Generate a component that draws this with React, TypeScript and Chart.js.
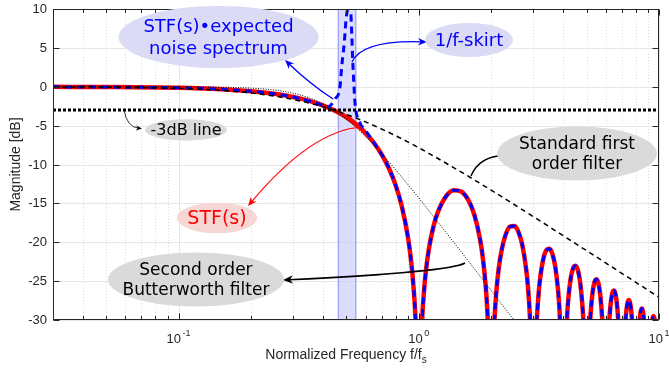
import React, { useEffect, useRef } from 'react';
import { Chart, registerables } from 'chart.js';
Chart.register(...registerables);

// ---------- data ----------
const stfFreq = [
  0.03, 0.05, 0.1, 0.15, 0.2, 0.25, 0.3, 0.35, 0.4, 0.45, 0.5, 0.55, 0.6, 0.65, 0.7, 0.75, 0.8, 0.85, 0.9, 0.93, 0.95, 0.97, 0.99,
  1.01, 1.03, 1.05, 1.07, 1.1, 1.15, 1.2, 1.3, 1.4, 1.5, 1.6, 1.7, 1.8, 1.85, 1.9, 1.93, 1.95,
  2.05, 2.07, 2.1, 2.15, 2.2, 2.3, 2.4, 2.5, 2.6, 2.7, 2.8, 2.85, 2.9, 2.95,
  3.05, 3.07, 3.1, 3.15, 3.2, 3.3, 3.4, 3.5, 3.6, 3.7, 3.8, 3.85, 3.9,
  4.1, 4.15, 4.2, 4.3, 4.4, 4.5, 4.6, 4.7, 4.8, 4.85, 4.9,
  5.1, 5.15, 5.2, 5.3, 5.4, 5.5, 5.6, 5.7, 5.8, 5.85,
  6.15, 6.2, 6.25, 6.3, 6.4, 6.5, 6.6, 6.7, 6.75, 6.8,
  7.2, 7.25, 7.3, 7.4, 7.5, 7.6, 7.7, 7.75,
  8.25, 8.3, 8.4, 8.5, 8.6, 8.7,
  9.3, 9.4, 9.5, 9.6, 9.7, 9.8,
];
const stfDb = [
  -0.013, -0.036, -0.144, -0.323, -0.579, -0.912, -1.326, -1.827, -2.419, -3.115, -3.922, -4.858, -5.94, -7.2, -8.69, -10.45, -12.62, -15.39, -19.23, -22.54, -25.61, -30.2, -39.9,
  -40.1, -30.73, -26.49, -23.76, -20.97, -18.02, -16.15, -14.06, -13.3, -13.47, -14.46, -16.39, -19.67, -22.15, -25.72, -28.88, -31.86,
  -32.3, -29.49, -26.59, -23.45, -21.41, -19.02, -17.98, -17.9, -18.68, -20.41, -23.51, -25.9, -29.39, -35.46,
  -35.75, -32.9, -29.97, -26.77, -24.67, -22.15, -21.01, -20.82, -21.51, -23.15, -26.16, -28.51, -31.96,
  -32.4, -29.16, -27.03, -24.45, -23.25, -23.01, -23.64, -25.23, -28.19, -30.52, -33.95,
  -34.3, -31.04, -28.88, -26.27, -25.03, -24.75, -25.35, -26.9, -29.83, -32.15,
  -32.58, -30.41, -28.87, -27.77, -26.5, -26.2, -26.77, -28.3, -29.54, -31.21,
  -31.71, -30.16, -29.05, -27.77, -27.44, -27.99, -29.51, -30.74,
  -31.28, -30.17, -28.87, -28.53, -29.07, -30.57,
  -31.15, -29.84, -29.5, -30.03, -31.52, -34.4,
];
// STF(s) * expected noise spectrum: deviates from STF only around the 1/f skirt
const noiseFreq = [0.42, 0.435, 0.4477, 0.4697, 0.4775, 0.4895, 0.4975, 0.5058, 0.513, 0.5207, 0.5257, 0.5307, 0.5373, 0.5425, 0.5692, 0.6];
const noiseDb = [-2.6, -2.2, -1.6, -0.03, 2.58, 5.63, 8.59, 10.3, 13.0, 9.87, 6.91, 3.44, 0.01, -2.09, -4.66, -5.6];

const firstFreq = [0.03, 0.05, 0.1, 0.15, 0.2, 0.25, 0.3, 0.35, 0.4, 0.443, 0.5, 0.6, 0.7, 0.8, 1, 1.5, 2, 3, 5, 7, 10];
const firstDb = [-0.02, -0.055, -0.216, -0.47, -0.807, -1.2, -1.64, -2.11, -2.59, -3.01, -3.57, -4.52, -5.44, -6.29, -7.85, -10.96, -13.3, -16.71, -21.09, -23.99, -27.08];

const butterFreq = [0.03, 0.1, 0.2, 0.25, 0.3, 0.35, 0.4, 0.443, 0.5, 0.6, 0.7, 0.8, 0.9, 1, 1.2, 1.5, 2, 2.5, 3];
const butterDb = [0, -0.011, -0.18, -0.42, -0.83, -1.43, -2.21, -3.01, -4.19, -6.4, -8.59, -10.66, -12.56, -14.31, -17.39, -21.22, -26.19, -30.07, -33.2];

const minus3Freq = [0.03, 10];
const minus3Db = [-3, -3];

const bandRange = [0.462, 0.547];

const yTicks = [-30, -25, -20, -15, -10, -5, 0, 5, 10];
const xDecades = [0.1, 1, 10];
const xDecadeExp = ['-1', '0', '1'];

// annotations (anchored in data coordinates)
const bubbles = [
  { f: 0.1466, db: 6.4, rx: 100, ry: 31, fill: 'rgb(219,219,245)', color: 'rgb(0,0,255)', size: 18, lines: ['STF(s)\u2022expected', 'noise spectrum'] },
  { f: 1.618, db: 6.01, rx: 44, ry: 17, fill: 'rgb(219,219,245)', color: 'rgb(0,0,255)', size: 18, lines: ['1/f-skirt'] },
  { f: 0.1074, db: -5.56, rx: 41, ry: 10.7, fill: 'rgb(218,218,218)', color: 'rgb(0,0,0)', size: 16, lines: ['-3dB line'] },
  { f: 0.1445, db: -16.88, rx: 40.3, ry: 15.3, fill: 'rgb(247,214,214)', color: 'rgb(255,0,0)', size: 19, lines: ['STF(s)'] },
  { f: 4.557, db: -8.585, rx: 80, ry: 27, fill: 'rgb(218,218,218)', color: 'rgb(0,0,0)', size: 17, lines: ['Standard first', 'order filter'] },
  { f: 0.1181, db: -24.79, rx: 88, ry: 27, fill: 'rgb(218,218,218)', color: 'rgb(0,0,0)', size: 17, lines: ['Second order', 'Butterworth filter'] },
];
const arrows = [
  { from: [0.44, -1.58], ctrl: [0.3524, 0.35], to: [0.2773, 3.44], color: 'rgb(0,0,255)', width: 1.3, head: 9 },
  { from: [0.5272, 3.18], ctrl: [0.5801, 6.01], to: [1.0817, 5.76], color: 'rgb(0,0,255)', width: 1.3, head: 9 },
  { from: [0.05925, -3.0], ctrl: [0.061, -5.18], to: [0.0704, -5.37], color: 'rgb(0,0,0)', width: 0.8, head: 6 },
  { from: [0.5801, -5.18], ctrl: [0.3593, -5.56], to: [0.1945, -15.34], color: 'rgb(255,0,0)', width: 1.2, head: 9 },
  { from: [1.649, -11.48], ctrl: [1.798, -8.78], to: [2.443, -8.91], color: 'rgb(0,0,0)', width: 1.5, head: 10 },
  { from: [1.557, -22.67], ctrl: [1.349, -23.83], to: [0.272, -24.86], color: 'rgb(0,0,0)', width: 1.5, head: 10 },
];

const zip = (xs: number[], ys: number[]) => xs.map((x, i) => ({ x, y: ys[i] }));

const stfPoints = zip(stfFreq, stfDb);
const noisePoints = [
  ...stfPoints.filter((p) => p.x < noiseFreq[0]),
  ...zip(noiseFreq, noiseDb),
  ...stfPoints.filter((p) => p.x > noiseFreq[noiseFreq.length - 1]),
];

const AXIS = 'rgb(38,38,38)';
const TICK_FONT = '"Liberation Sans", Arial, sans-serif';
const NOTE_FONT = '"DejaVu Sans", sans-serif';

function xGridValues(): { v: number; major: boolean }[] {
  const out: { v: number; major: boolean }[] = [];
  for (let e = -2; e <= 1; e++) {
    for (let m = 1; m <= 9; m++) {
      const v = m * Math.pow(10, e);
      if (v >= 0.0299 && v <= 10.001) out.push({ v, major: m === 1 });
    }
  }
  return out;
}

const decorPlugin = {
  id: 'decor',
  beforeDatasetsDraw(chart: any) {
    const { ctx, chartArea: a, scales } = chart;
    const xs = scales.x, ys = scales.y;
    ctx.save();
    ctx.lineWidth = 1;
    for (const g of xGridValues()) {
      const px = Math.round(xs.getPixelForValue(g.v)) + 0.5;
      ctx.beginPath();
      if (g.major) { ctx.setLineDash([]); ctx.strokeStyle = 'rgb(230,230,230)'; }
      else { ctx.setLineDash([1, 2]); ctx.strokeStyle = 'rgb(222,222,222)'; }
      ctx.moveTo(px, a.top); ctx.lineTo(px, a.bottom); ctx.stroke();
    }
    ctx.setLineDash([]);
    ctx.strokeStyle = 'rgb(230,230,230)';
    for (const t of yTicks) {
      const py = Math.round(ys.getPixelForValue(t)) + 0.5;
      ctx.beginPath(); ctx.moveTo(a.left, py); ctx.lineTo(a.right, py); ctx.stroke();
    }
    const b0 = xs.getPixelForValue(bandRange[0]);
    const b1 = xs.getPixelForValue(bandRange[1]);
    ctx.fillStyle = 'rgba(205,205,255,0.7)';
    ctx.fillRect(b0, a.top, b1 - b0, a.bottom - a.top);
    ctx.strokeStyle = 'rgb(140,140,250)';
    ctx.lineWidth = 1;
    ctx.beginPath();
    ctx.moveTo(b0, a.top); ctx.lineTo(b0, a.bottom);
    ctx.moveTo(b1, a.top); ctx.lineTo(b1, a.bottom);
    ctx.stroke();
    ctx.restore();
  },
  afterDatasetsDraw(chart: any) {
    const { ctx, chartArea: a, scales } = chart;
    const xs = scales.x, ys = scales.y;
    const P = (f: number, db: number) => ({ x: xs.getPixelForValue(f), y: ys.getPixelForValue(db) });
    ctx.save();
    ctx.strokeStyle = AXIS;
    ctx.lineWidth = 1;
    ctx.setLineDash([]);
    const L = Math.round(a.left) + 0.5, R = Math.round(a.right) - 0.5, T = Math.round(a.top) + 0.5, B = Math.round(a.bottom) - 0.5;
    ctx.strokeRect(L, T, R - L, B - T);
    ctx.beginPath();
    for (const g of xGridValues()) {
      const px = Math.round(xs.getPixelForValue(g.v)) + 0.5;
      const len = g.major ? 6 : 3.5;
      ctx.moveTo(px, B); ctx.lineTo(px, B - len);
      ctx.moveTo(px, T); ctx.lineTo(px, T + len);
    }
    for (const t of yTicks) {
      const py = Math.round(ys.getPixelForValue(t)) + 0.5;
      ctx.moveTo(L, py); ctx.lineTo(L + 6, py);
      ctx.moveTo(R, py); ctx.lineTo(R - 6, py);
    }
    ctx.stroke();

    // tick labels
    ctx.fillStyle = AXIS;
    ctx.font = `13px ${TICK_FONT}`;
    ctx.textAlign = 'right';
    ctx.textBaseline = 'middle';
    for (const t of yTicks) ctx.fillText(String(t), a.left - 6, ys.getPixelForValue(t) + 0.5);
    ctx.textBaseline = 'alphabetic';
    ctx.textAlign = 'left';
    xDecades.forEach((v, i) => {
      ctx.font = `13px ${TICK_FONT}`;
      const wb = ctx.measureText('10').width;
      ctx.font = `9px ${TICK_FONT}`;
      const we = ctx.measureText(xDecadeExp[i]).width;
      const total = wb + 1.5 + we;
      const x0 = xs.getPixelForValue(v) - total / 2;
      ctx.font = `13px ${TICK_FONT}`;
      ctx.fillText('10', x0, 342.5);
      ctx.font = `9px ${TICK_FONT}`;
      ctx.fillText(xDecadeExp[i], x0 + wb + 1.5, 336);
    });

    // arrows
    for (const ar of arrows) {
      const p0 = P(ar.from[0], ar.from[1]);
      const c = P(ar.ctrl[0], ar.ctrl[1]);
      const p1 = P(ar.to[0], ar.to[1]);
      const ang = Math.atan2(p1.y - c.y, p1.x - c.x);
      const h = ar.head;
      const endX = p1.x - Math.cos(ang) * h * 0.6;
      const endY = p1.y - Math.sin(ang) * h * 0.6;
      ctx.strokeStyle = ar.color;
      ctx.fillStyle = ar.color;
      ctx.lineWidth = ar.width;
      ctx.beginPath();
      ctx.moveTo(p0.x, p0.y);
      ctx.quadraticCurveTo(c.x, c.y, endX, endY);
      ctx.stroke();
      const w = h * 0.42;
      const bx = p1.x - Math.cos(ang) * h, by = p1.y - Math.sin(ang) * h;
      const nx = -Math.sin(ang), ny = Math.cos(ang);
      ctx.beginPath();
      ctx.moveTo(p1.x, p1.y);
      ctx.lineTo(bx + nx * w, by + ny * w);
      ctx.lineTo(p1.x - Math.cos(ang) * h * 0.7, p1.y - Math.sin(ang) * h * 0.7);
      ctx.lineTo(bx - nx * w, by - ny * w);
      ctx.closePath();
      ctx.fill();
    }

    // bubbles
    for (const bb of bubbles) {
      const c = P(bb.f, bb.db);
      ctx.fillStyle = bb.fill;
      ctx.beginPath();
      ctx.ellipse(c.x, c.y, bb.rx, bb.ry, 0, 0, Math.PI * 2);
      ctx.fill();
      ctx.fillStyle = bb.color;
      ctx.font = `${bb.size}px ${NOTE_FONT}`;
      ctx.textAlign = 'center';
      ctx.textBaseline = 'middle';
      const lh = bb.size * 1.22;
      const n = bb.lines.length;
      bb.lines.forEach((ln, i) => {
        ctx.fillText(ln, c.x, c.y + (i - (n - 1) / 2) * lh + 1);
      });
    }

    // axis titles
    ctx.fillStyle = AXIS;
    ctx.textBaseline = 'alphabetic';
    const main = 'Normalized Frequency f/f';
    ctx.font = `14px ${TICK_FONT}`;
    const wMain = ctx.measureText(main).width;
    ctx.font = `10px ${TICK_FONT}`;
    const wSub = ctx.measureText('s').width;
    const startX = (a.left + a.right) / 2 - 10 - (wMain + wSub) / 2;
    ctx.textAlign = 'left';
    ctx.font = `14px ${TICK_FONT}`;
    ctx.fillText(main, startX, 359);
    ctx.font = `10px ${TICK_FONT}`;
    ctx.fillText('s', startX + wMain, 363);

    ctx.save();
    ctx.translate(16, (a.top + a.bottom) / 2);
    ctx.rotate(-Math.PI / 2);
    ctx.textAlign = 'center';
    ctx.textBaseline = 'middle';
    ctx.font = `14px ${TICK_FONT}`;
    ctx.fillText('Magnitude [dB]', 0, 0);
    ctx.restore();

    ctx.restore();
  },
};

export default function App() {
  const ref = useRef<HTMLCanvasElement>(null);
  useEffect(() => {
    document.body.style.margin = '0';
    const line = (data: any[], color: string, width: number, dash: number[], order: number, smooth: boolean) => ({
      data,
      borderColor: color,
      backgroundColor: color,
      borderWidth: width,
      borderDash: dash,
      pointRadius: 0,
      fill: false,
      clip: 0,
      order,
      borderJoinStyle: 'round' as const,
      cubicInterpolationMode: smooth ? ('monotone' as const) : ('default' as const),
      tension: 0,
    });
    const chart = new Chart(ref.current!, {
      type: 'line',
      data: {
        datasets: [
          line(stfPoints, 'rgb(255,0,0)', 4.5, [], 5, true),
          line(noisePoints, 'rgb(0,0,255)', 3, [7, 5], 4, true),
          line(zip(firstFreq, firstDb), 'rgb(0,0,0)', 1.5, [5, 4], 3, true),
          line(zip(butterFreq, butterDb), 'rgb(0,0,0)', 1, [1, 1.5], 2, true),
          line(zip(minus3Freq, minus3Db), 'rgb(0,0,0)', 3, [3, 2], 1, false),
        ],
      },
      options: {
        responsive: false,
        animation: false,
        events: [],
        layout: { padding: { top: 9, right: 10, left: 0, bottom: 0 } },
        plugins: { legend: { display: false }, tooltip: { enabled: false } },
        scales: {
          x: {
            type: 'logarithmic',
            min: 0.03,
            max: 10,
            grid: { display: false, drawTicks: false },
            border: { display: false },
            ticks: { display: false },
            afterFit: (s: any) => { s.height = 50; },
          },
          y: {
            min: -30,
            max: 10,
            grid: { display: false, drawTicks: false },
            border: { display: false },
            ticks: { display: false, stepSize: 5 },
            afterFit: (s: any) => { s.width = 53; },
          },
        },
      },
      plugins: [decorPlugin],
    } as any);
    return () => chart.destroy();
  }, []);
  return (
    <div style={{ width: 669, height: 370, position: 'relative' }}>
      <canvas ref={ref} width={669} height={370} style={{ display: 'block', width: 669, height: 370 }} />
    </div>
  );
}
